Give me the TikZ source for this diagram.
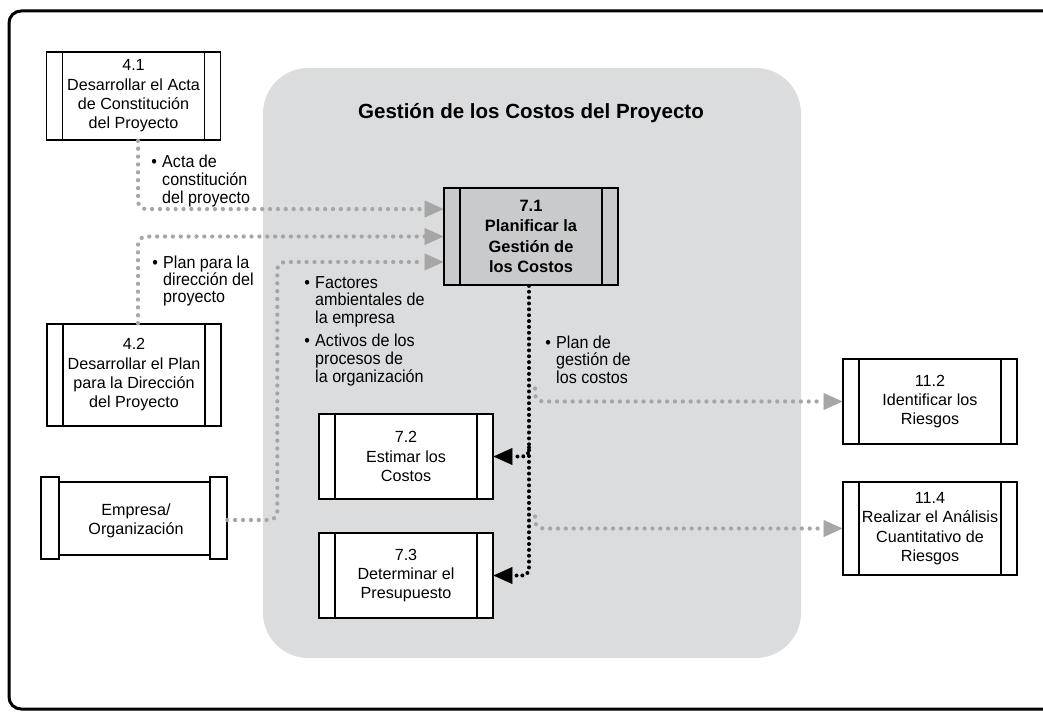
\documentclass[tikz,border=0pt]{standalone}
\usepackage{fontspec}
\setmainfont{Liberation Sans}
\newfontfamily\narrowfont[FakeStretch=0.93]{Liberation Sans}
\usetikzlibrary{arrows.meta,calc}
\definecolor{areagray}{HTML}{DBDCDE}
\definecolor{boxgray}{HTML}{C9CACC}
\definecolor{dotgray}{HTML}{A6A6A6}
\begin{document}
\begin{tikzpicture}[x=0.75pt,y=-0.75pt,
  procbox/.style={draw, line width=1.3pt, fill=white, minimum width=130.5pt, inner sep=0pt, align=center,
    font=\fontsize{12.1}{14.5}\selectfont,
    path picture={\draw[line width=1pt]
      ([xshift=12pt]path picture bounding box.north west) -- ([xshift=12pt]path picture bounding box.south west)
      ([xshift=-12pt]path picture bounding box.north east) -- ([xshift=-12pt]path picture bounding box.south east);}},
  grayflow/.style={draw=dotgray, line width=3.2pt, line cap=round, dash pattern=on 0pt off 5.9pt, rounded corners=6pt,
    -{Triangle[length=14.25pt,width=12.75pt,fill=dotgray,color=dotgray,round=false,line width=0.4pt]}},
  blackflow/.style={draw=black, line width=3pt, line cap=round, dash pattern=on 0pt off 4.4pt, rounded corners=5pt,
    -{Triangle[length=14.25pt,width=12.75pt,round=false,line width=0.4pt]}},
  lbl/.style={anchor=base west, inner sep=0pt, font=\narrowfont\fontsize{13}{12.75}\selectfont},
  barline/.style={draw, line width=1.3pt, fill=white}
]
\useasboundingbox (0,0) rectangle (1043,713);
% outer frame
\draw[line width=2.25pt, rounded corners=9pt] (1060,11) -- (9,11) -- (9,709) -- (1060,709);
% grey area
\fill[areagray, rounded corners=34pt] (263,68) rectangle (801,658);
\node[font=\bfseries\fontsize{15.4}{18}\selectfont] (title) at (531,113) {Gestión de los Costos del Proyecto};

% boxes
\node[procbox, minimum height=66pt] (a41) at (133.5,96) {4.1\\Desarrollar el Acta\\de Constitución\\del Proyecto};
\node[procbox, minimum height=76.5pt] (a42) at (134,375) {4.2\\Desarrollar el Plan\\para la Dirección\\del Proyecto};
\node[procbox, fill=boxgray, minimum height=72.75pt, font=\bfseries\fontsize{12.3}{15.2}\selectfont] (p71) at (531,236.5) {7.1\\Planificar la\\Gestión de\\los Costos};
\node[procbox, minimum height=63.75pt] (p72) at (406,456.5) {7.2\\Estimar los\\Costos};
\node[procbox, minimum height=63.75pt] (p73) at (406,575.5) {7.3\\Determinar el\\Presupuesto};
\node[procbox, minimum height=63.75pt] (r112) at (930,401.5) {11.2\\Identificar los\\Riesgos};
\node[procbox, minimum height=69.75pt] (r114) at (930,528.5) {11.4\\Realizar el Análisis\\Cuantitativo de\\Riesgos};

% Empresa box (bars taller than the middle)
\node[minimum width=139.5pt, minimum height=61.5pt, inner sep=0pt] (emp) at (134,518) {};
\draw[barline] ([xshift=13.5pt,yshift=-3.75pt]emp.north west) rectangle ([xshift=-12.75pt,yshift=3pt]emp.south east);
\draw[barline] (emp.north west) rectangle ([xshift=13.5pt]emp.south west);
\draw[barline] ([xshift=-12.75pt]emp.north east) rectangle (emp.south east);
\node[font=\fontsize{12.1}{14.5}\selectfont, align=center] (emptext) at (136,521) {Empresa/\\Organización};

% grey inputs
\draw[grayflow] ([xshift=3.4pt]a41.south) |- ([yshift=20.6pt]p71.west);
\draw[grayflow] ([xshift=3pt]a42.north) |- (p71.west);
\draw[grayflow] ([yshift=-1.5pt]emp.east) -- ++(50,0) |- ([yshift=-19.1pt]p71.west);

% black outputs
\coordinate (v) at ([xshift=-1.5pt]p71.south);
\draw[blackflow] (v) |- (p73.east);
\draw[blackflow] ($(v |- p72.east)+(0,-9)$) |- (p72.east);

% grey outputs
\draw[grayflow] ($(v |- r112.west)+(6,-13)$) |- (r112.west);
\draw[grayflow] ($(v |- r114.west)+(6,-12)$) |- (r114.west);

% labels
\node[lbl] (l1) at (151,168) {\begin{tabular}[t]{@{}l@{\hspace{4pt}}l@{}}\textbullet&Acta de\\&constitución\\&del proyecto\end{tabular}};
\node[lbl] (l2) at (152,268) {\begin{tabular}[t]{@{}l@{\hspace{4pt}}l@{}}\textbullet&Plan para la\\&dirección del\\&proyecto\end{tabular}};
\node[lbl] (l3) at (304,288) {\begin{tabular}[t]{@{}l@{\hspace{4pt}}l@{}}\textbullet&Factores\\&ambientales de\\&la empresa\\[4.5pt]\textbullet&Activos de los\\&procesos de\\&la organización\end{tabular}};
\node[lbl] (l4) at (545,348) {\begin{tabular}[t]{@{}l@{\hspace{4pt}}l@{}}\textbullet&Plan de\\&gestión de\\&los costos\end{tabular}};
\end{tikzpicture}
\end{document}
